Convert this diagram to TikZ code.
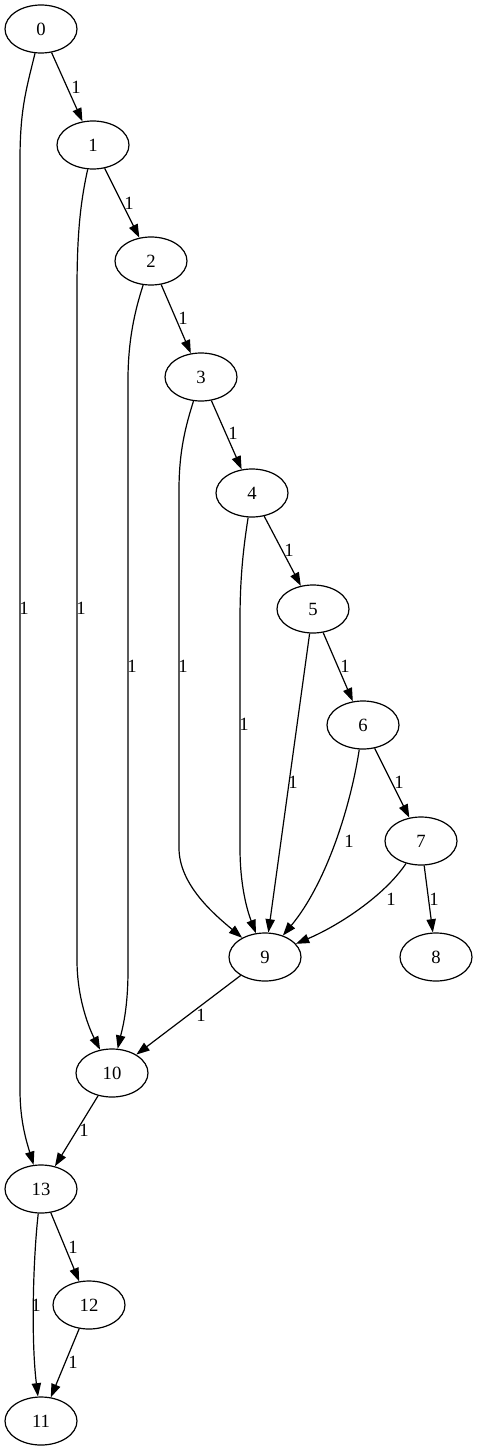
\documentclass[tikz,border=0pt]{standalone}
\usepackage{fontspec}
\setmainfont{Liberation Serif}
\usetikzlibrary{shapes.geometric,arrows.meta}
\begin{document}
\begin{tikzpicture}[x=0.75pt,y=-0.75pt,
  gvnode/.style={draw,ellipse,minimum width=54pt,minimum height=36pt,inner sep=0pt,line width=0.9pt,font=\fontsize{14}{16}\selectfont},
  gvedge/.style={line width=0.9pt,-{Triangle[length=10pt,width=7pt]}},
  gvlab/.style={inner sep=0pt,font=\fontsize{14}{16}\selectfont}]
\useasboundingbox (0,0) rectangle (477,1451);
\node[gvnode] (n0) at (41,29) {0};
\node[gvnode] (n1) at (93,145) {1};
\node[gvnode] (n2) at (151,261) {2};
\node[gvnode] (n3) at (201,377) {3};
\node[gvnode] (n4) at (252,493) {4};
\node[gvnode] (n5) at (313,609) {5};
\node[gvnode] (n6) at (363,725) {6};
\node[gvnode] (n7) at (421,841) {7};
\node[gvnode] (n8) at (436,957) {8};
\node[gvnode] (n9) at (265,957) {9};
\node[gvnode] (n10) at (112,1073) {10};
\node[gvnode] (n13) at (41,1189) {13};
\node[gvnode] (n12) at (89,1305) {12};
\node[gvnode] (n11) at (41,1421) {11};
% chain
\draw[gvedge] (n0) -- (n1);
\draw[gvedge] (n1) -- (n2);
\draw[gvedge] (n2) -- (n3);
\draw[gvedge] (n3) -- (n4);
\draw[gvedge] (n4) -- (n5);
\draw[gvedge] (n5) -- (n6);
\draw[gvedge] (n6) -- (n7);
\draw[gvedge] (n7) -- (n8);
\draw[gvedge] (n9) -- (n10);
\draw[gvedge] (n10) -- (n13);
\draw[gvedge] (n13) -- (n12);
\draw[gvedge] (n12) -- (n11);
\draw[gvedge] (n5) -- (n9);
% long edges
\draw[gvedge] (n0) .. controls (26,90) and (20,110) .. (20,160) -- (20,1090) .. controls (20,1120) and (26,1140) .. (n13);
\draw[gvedge] (n1) .. controls (81,200) and (77,230) .. (77,290) -- (77,960) .. controls (77,1000) and (90,1030) .. (n10);
\draw[gvedge] (n2) .. controls (135,310) and (128,340) .. (128,380) -- (128,970) .. controls (128,1010) and (122,1030) .. (n10);
\draw[gvedge] (n3) .. controls (186,425) and (179,450) .. (179,490) -- (179,848) .. controls (179,885) and (215,915) .. (n9);
\draw[gvedge] (n4) .. controls (243,550) and (240,580) .. (240,620) -- (240,848) .. controls (240,885) and (247,910) .. (n9);
\draw[gvedge] (n6) .. controls (350,810) and (325,885) .. (n9);
\draw[gvedge] (n7) .. controls (385,895) and (340,925) .. (n9);
\draw[gvedge] (n13) .. controls (33,1260) and (31,1340) .. (n11);
% labels
\node[gvlab] (l01) at (76,87) {1};
\node[gvlab] (l12) at (129,203) {1};
\node[gvlab] (l23) at (183,318) {1};
\node[gvlab] (l34) at (233,433) {1};
\node[gvlab] (l45) at (289,550) {1};
\node[gvlab] (l56) at (345,666) {1};
\node[gvlab] (l67) at (399,782) {1};
\node[gvlab] (l78) at (434,899) {1};
\node[gvlab] (l79) at (391,899) {1};
\node[gvlab] (l69) at (349,841) {1};
\node[gvlab] (l59) at (293,782) {1};
\node[gvlab] (l49) at (244,724) {1};
\node[gvlab] (l39) at (183,666) {1};
\node[gvlab] (l210) at (132,666) {1};
\node[gvlab] (l110) at (81,608) {1};
\node[gvlab] (l013) at (24,608) {1};
\node[gvlab] (l910) at (201,1015) {1};
\node[gvlab] (l1013) at (84,1130) {1};
\node[gvlab] (l1312) at (73,1247) {1};
\node[gvlab] (l1311) at (36,1305) {1};
\node[gvlab] (l1211) at (73,1362) {1};
\end{tikzpicture}
\end{document}
